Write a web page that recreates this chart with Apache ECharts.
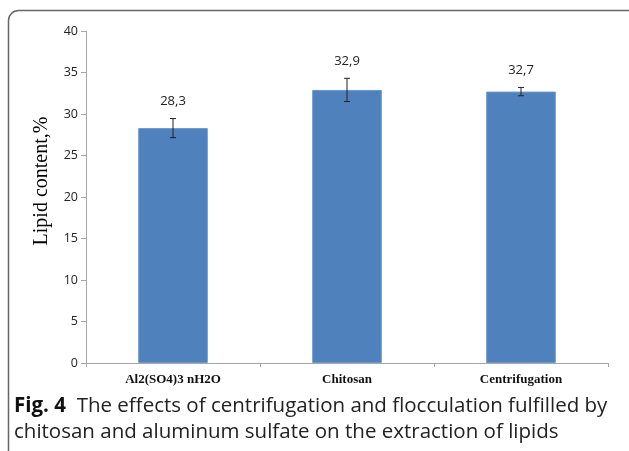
<!DOCTYPE html>
<html><head><meta charset="utf-8">
<script src="https://cdn.jsdelivr.net/npm/echarts@6/dist/echarts.min.js"></script>
<style>html,body{margin:0;padding:0;background:#fff}#c{width:629px;height:451px}</style>
</head><body><div id="c"></div>
<script>
const categories = ['Al2(SO4)3 nH2O', 'Chitosan', 'Centrifugation'];
const values = [28.3, 32.9, 32.7];
const errors = [1.15, 1.4, 0.5];
const yTicks = [0, 5, 10, 15, 20, 25, 30, 35, 40];

const chart = echarts.init(document.getElementById('c'));
chart.setOption({
  animation: false,
  grid: { left: 86, right: 21, top: 31, bottom: 88, containLabel: false },
  xAxis: {
    type: 'category', data: categories,
    axisLine: { lineStyle: { color: '#a6a6a6', width: 1 } },
    axisTick: { show: true, length: 4, lineStyle: { color: '#a6a6a6' } },
    axisLabel: { fontFamily: 'Liberation Serif', fontSize: 13, color: '#111', margin: 10, fontWeight: 'bold' }
  },
  yAxis: {
    type: 'value', min: yTicks[0], max: yTicks[yTicks.length - 1], interval: 5,
    name: 'Lipid content,%', nameLocation: 'middle', nameRotate: 90, nameGap: 34,
    nameTextStyle: { fontFamily: 'Liberation Serif', fontSize: 20, color: '#000', padding: [0, 0, 0, 32] },
    axisLine: { show: true, lineStyle: { color: '#a6a6a6' } },
    axisTick: { show: true, length: 5, inside: false, lineStyle: { color: '#a6a6a6' } },
    splitLine: { show: false },
    axisLabel: { fontFamily: 'Open Sans', fontSize: 12.5, color: '#222', margin: 8 }
  },
  series: [{
    type: 'bar', data: values, barWidth: '40%',
    itemStyle: { color: '#4F81BD', borderColor: '#6b98cf', borderWidth: 1 }
  }, {
    type: 'custom',
    data: values.map((v, i) => [i, v, errors[i]]),
    renderItem: function (params, api) {
      const x = api.value(0), v = api.value(1), e = api.value(2);
      const top = api.coord([x, v + e]);
      const bot = api.coord([x, v - e]);
      const cx = top[0];
      const style = { stroke: '#222', lineWidth: 1 };
      const label = String(values[params.dataIndex]).replace('.', ',');
      return {
        type: 'group', children: [
          { type: 'line', shape: { x1: cx, y1: top[1], x2: cx, y2: bot[1] }, style },
          { type: 'line', shape: { x1: cx - 3, y1: top[1], x2: cx + 3, y2: top[1] }, style },
          { type: 'line', shape: { x1: cx - 3, y1: bot[1], x2: cx + 3, y2: bot[1] }, style },
          { type: 'text', style: { text: label, x: cx, y: top[1] - 17, align: 'center', verticalAlign: 'middle',
            fontFamily: 'Open Sans', fontSize: 13, fill: '#222' } }
        ]
      };
    },
    z: 5
  }],
  graphic: [
    { type: 'rect', shape: { x: 8.5, y: 10.5, width: 700, height: 600, r: 10 },
      style: { fill: 'none', stroke: '#666', lineWidth: 1.5 }, silent: true },
    { type: 'text', x: 14, y: 406, style: {
        text: '{b|Fig. 4}  The effects of centrifugation and flocculation fulfilled by',
        rich: { b: { fontFamily: 'Open Sans', fontWeight: 'bold', fontSize: 20.5, fill: '#111' } },
        verticalAlign: 'middle',
        fontFamily: 'Open Sans', fontSize: 20.5, fill: '#222' } },
    { type: 'text', x: 14, y: 432, style: {
        text: 'chitosan and aluminum sulfate on the extraction of lipids',
        verticalAlign: 'middle',
        fontFamily: 'Open Sans', fontSize: 20.5, fill: '#222' } }
  ]
});
</script></body></html>
